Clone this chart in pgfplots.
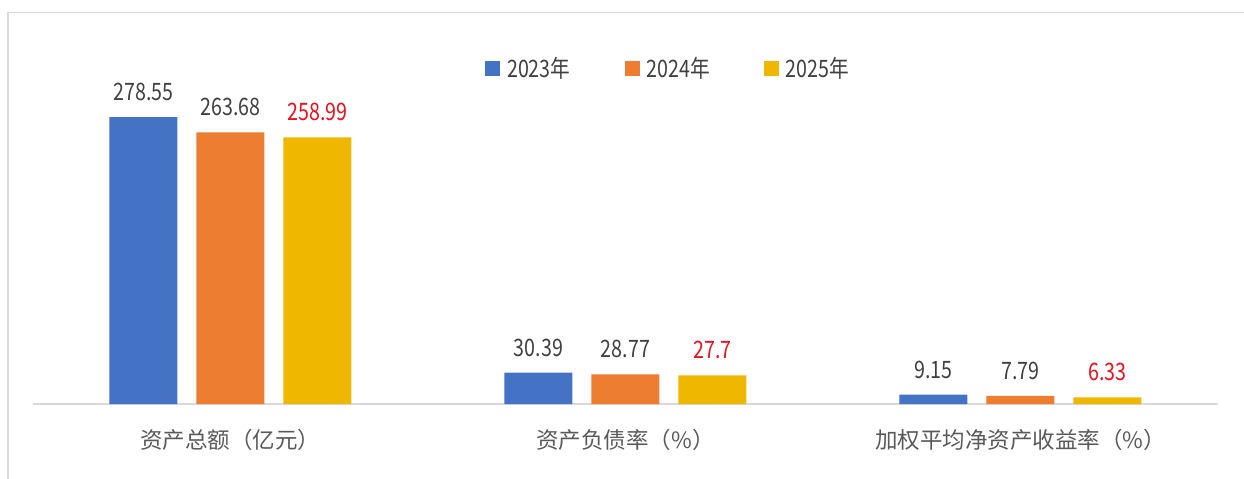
\documentclass[border=0pt]{standalone}
\usepackage{fontspec}
\setmainfont{Noto Sans CJK SC}
\usepackage{graphicx}
\usepackage{pgfplots}
\usepackage{pgfplotstable}
\pgfplotsset{compat=1.18}
\definecolor{cA}{HTML}{4472C4}
\definecolor{cB}{HTML}{ED7D31}
\definecolor{cC}{HTML}{F0B700}
\definecolor{lbl}{HTML}{404040}
\definecolor{catc}{HTML}{595959}
\definecolor{redl}{HTML}{E8101E}
\definecolor{linec}{HTML}{D9D9D9}

\pgfplotstableread{
x y lab
0 278.55 278.55
1 30.39 30.39
2 9.15 9.15
}\dA
\pgfplotstableread{
x y lab
0 263.68 263.68
1 28.77 28.77
2 7.79 7.79
}\dB
\pgfplotstableread{
x y lab
0 258.99 258.99
1 27.7 27.7
2 6.33 6.33
}\dC

\begin{document}
\begin{tikzpicture}
\useasboundingbox (0,0) rectangle (1244bp,-479bp);
\draw[linec, line width=1.5bp] (8bp,-479bp) -- (8bp,-12.5bp) -- (1244bp,-12.5bp);
\begin{axis}[
  at={(33bp,-404bp)}, anchor=south west,
  scale only axis, width=1185bp, height=344bp,
  ybar=19bp, bar width=68bp,
  xmin=-0.5, xmax=2.5, ymin=0, ymax=334,
  enlarge x limits=false,
  axis x line=bottom, axis y line=none,
  axis line style={-, draw=linec, line width=1.5bp},
  xtick={0,1,2},
  xticklabels={资产总额（亿元）,资产负债率（\%）,加权平均净资产收益率（\%）},
  major tick length=0pt,
  xticklabel style={font=\fontsize{22.5bp}{26bp}\selectfont, text=catc, anchor=north, yshift=-22bp},
  clip=false,
  point meta=explicit symbolic,
  nodes near coords={\scalebox{0.82}[1]{\pgfplotspointmeta}},
  every node near coord/.append style={font=\fontsize{24bp}{28bp}\selectfont, text=lbl, anchor=south, inner sep=0pt, yshift=16bp},
  legend columns=3,
  legend image code/.code={\fill[#1] (0bp,-7.5bp) rectangle (15bp,7.5bp);},
  legend style={draw=none, fill=none, inner sep=0pt,
    at={(axis description cs:0.3814,0.9767)}, anchor=west,
    font=\fontsize{24bp}{28bp}\selectfont, text=lbl,
    nodes={inner sep=0pt},
    /tikz/every odd column/.append style={column sep=7bp},
    /tikz/every even column/.append style={column sep=54bp}},
]
\addplot[fill=cA, draw=none] table[x=x, y=y, meta=lab] {\dA};
\addplot[fill=cB, draw=none] table[x=x, y=y, meta=lab] {\dB};
\addplot[fill=cC, draw=none, every node near coord/.append style={text=redl}] table[x=x, y=y, meta=lab] {\dC};
\legend{\scalebox{0.82}[1]{2023年},\scalebox{0.82}[1]{2024年},\scalebox{0.82}[1]{2025年}}
\end{axis}
\end{tikzpicture}
\end{document}
